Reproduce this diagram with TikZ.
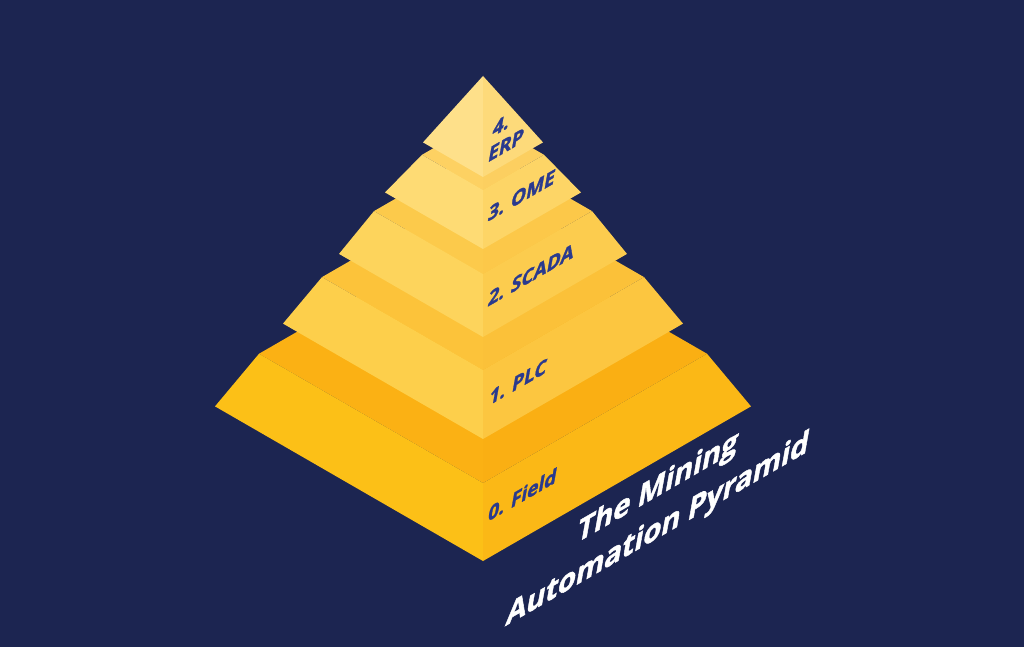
\documentclass[tikz,border=0pt]{standalone}
\usepackage{fontspec}
\newfontfamily\pyrfont{Open Sans}[BoldFeatures={FakeBold=1.6}]
\definecolor{bgnavy}{HTML}{1C2551}
\definecolor{lblblue}{HTML}{2A3A8E}
\definecolor{fieldL}{HTML}{FCC017}
\definecolor{fieldR}{HTML}{FBB816}
\definecolor{fieldBL}{HTML}{FBB114}
\definecolor{fieldBR}{HTML}{FAAF13}
\definecolor{plcL}{HTML}{FDCF4B}
\definecolor{plcR}{HTML}{FCC640}
\definecolor{plcBL}{HTML}{FCC33A}
\definecolor{plcBR}{HTML}{FBC139}
\definecolor{scadaL}{HTML}{FDD45C}
\definecolor{scadaR}{HTML}{FCCC4E}
\definecolor{scadaBL}{HTML}{FCCA4B}
\definecolor{scadaBR}{HTML}{FCC849}
\definecolor{omeL}{HTML}{FEDB74}
\definecolor{omeR}{HTML}{FDD566}
\definecolor{omeBL}{HTML}{FDD162}
\definecolor{omeBR}{HTML}{FCCF60}
\definecolor{erpL}{HTML}{FEE08A}
\definecolor{erpR}{HTML}{FDDA7A}
\definecolor{erpBL}{HTML}{FEE08A}
\definecolor{erpBR}{HTML}{FDDA7A}

\begin{document}
\begin{tikzpicture}
[x=1pt,y=-1pt,%
  lvl/.style={font=\pyrfont\bfseries\fontsize{19}{23}\selectfont,text=lblblue,%
    inner sep=0pt,anchor=base west,yslant=0.577,xslant=0.2},%
  ttl/.style={font=\pyrfont\bfseries\fontsize{29}{35}\selectfont,text=white,%
    inner sep=0pt,anchor=base,yslant=0.577,xslant=0.2}]
\fill[bgnavy] (0,0) rectangle (1024,647);
\foreach \w/\yb/\h/\d/\tier in {268/561/78/44/field,200/439/69/39/plc,%
  144/337/63/35/scada,98/249/59/37/ome,60/177/101/60/erp}
{
  \fill[\tier BL] ({483-\w+\d},{\yb-\h-(\w-\d)*0.577}) -- (483,{\yb-\h-2*(\w-\d)*0.577})
    -- (483,{\yb-\h}) -- cycle;
  \fill[\tier BR] ({483+\w-\d},{\yb-\h-(\w-\d)*0.577}) -- (483,{\yb-\h-2*(\w-\d)*0.577})
    -- (483,{\yb-\h}) -- cycle;
  \fill[\tier L] ({483-\w},{\yb-\w*0.577}) -- ({483-\w+\d},{\yb-\h-(\w-\d)*0.577})
    -- (483,{\yb-\h}) -- (483,\yb) -- cycle;
  \fill[\tier R] ({483+\w},{\yb-\w*0.577}) -- ({483+\w-\d},{\yb-\h-(\w-\d)*0.577})
    -- (483,{\yb-\h}) -- (483,\yb) -- cycle;
}
\node[lvl] (field) at (487,522) {0. Field};
\node[lvl] (plc) at (488,406) {1. PLC};
\node[lvl] (scada) at (487,307) {2. SCADA};
\node[lvl] (ome) at (487,222) {3. OME};
\node[lvl,align=left,anchor=south west] (erp) at (487,163) {4.\\ERP};
\node[ttl] (title1) at (656,497) {The Mining};
\node[ttl] (title2) at (656,539) {Automation Pyramid};
\end{tikzpicture}
\end{document}
